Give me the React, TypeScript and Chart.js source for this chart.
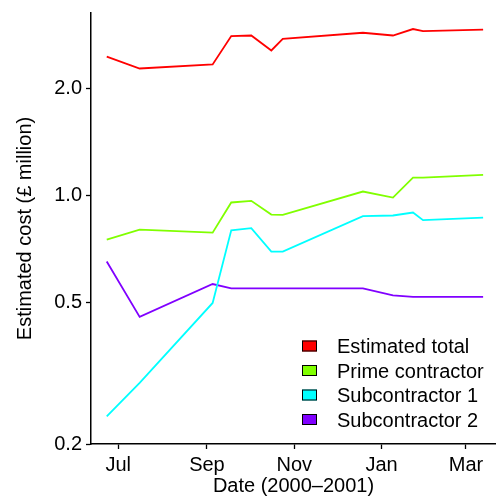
import React, { useEffect, useRef } from "react";
import { Chart, registerables } from "chart.js";

Chart.register(...registerables);

// ---- Data ----
const dates = [
  "2000-06-23", "2000-07-16", "2000-09-05", "2000-09-18", "2000-10-02", "2000-10-16",
  "2000-10-24", "2000-12-19", "2001-01-09", "2001-01-23", "2001-01-30", "2001-03-13",
];
const estimatedTotal = [2.45, 2.27, 2.33, 2.80, 2.81, 2.55, 2.75, 2.86, 2.81, 2.93, 2.89, 2.92];
const primeContractor = [0.75, 0.80, 0.785, 0.954, 0.964, 0.882, 0.880, 1.024, 0.985, 1.12, 1.12, 1.14];
const subcontractor1 = [0.239, 0.297, 0.498, 0.797, 0.808, 0.694, 0.694, 0.873, 0.877, 0.894, 0.851, 0.865];
const subcontractor2 = [0.651, 0.455, 0.563, 0.547, 0.547, 0.547, 0.547, 0.547, 0.523, 0.518, 0.518, 0.518];

const seriesLabels = ["Estimated total", "Prime contractor", "Subcontractor 1", "Subcontractor 2"];
const seriesColors = ["#FF0000", "#80FF00", "#00FFFF", "#8000FF"];

const xTickDates = ["2000-07-01", "2000-09-01", "2000-11-01", "2001-01-01", "2001-03-01"];
const xTickLabels = ["Jul", "Sep", "Nov", "Jan", "Mar"];
const yTicks = [0.2, 0.5, 1.0, 2.0];

const ORIGIN = Date.parse("2000-07-01T00:00:00Z");
const toDay = (d: string) => (Date.parse(d + "T00:00:00Z") - ORIGIN) / 86400000;

const FONT = "'Liberation Sans', Arial, Helvetica, sans-serif";

export default function App() {
  const ref = useRef<HTMLCanvasElement | null>(null);

  useEffect(() => {
    document.body.style.margin = "0";
    const canvas = ref.current;
    if (!canvas) return;

    const seriesValues = [estimatedTotal, primeContractor, subcontractor1, subcontractor2];
    const datasets = seriesValues.map((vals, i) => ({
      label: seriesLabels[i],
      data: vals.map((v, j) => ({ x: toDay(dates[j]), y: v })),
      borderColor: seriesColors[i],
      backgroundColor: seriesColors[i],
      borderWidth: 1.8,
      pointRadius: 0,
      tension: 0,
      fill: false,
    }));

    const xTickValues = xTickDates.map(toDay);

    const legendPlugin = {
      id: "customLegend",
      afterDraw(chart: any) {
        const ctx = chart.ctx;
        ctx.save();
        ctx.font = `20px ${FONT}`;
        ctx.textAlign = "left";
        ctx.textBaseline = "alphabetic";
        seriesLabels.forEach((lab, i) => {
          const cy = 346 + i * 24.5;
          ctx.fillStyle = seriesColors[i];
          ctx.fillRect(302, cy - 5.5, 15, 11);
          ctx.strokeStyle = "#000";
          ctx.lineWidth = 1;
          ctx.strokeRect(302.5, cy - 5, 14, 10);
          ctx.fillStyle = "#000";
          ctx.fillText(lab, 337, cy + 7);
        });
        ctx.restore();
      },
    };

    const chart = new Chart(canvas, {
      type: "line",
      data: { datasets },
      options: {
        animation: false,
        responsive: false,
        maintainAspectRatio: false,
        layout: { padding: { top: 13, left: 0, right: 0, bottom: 0 } },
        plugins: {
          legend: { display: false },
          tooltip: { enabled: false },
        },
        scales: {
          x: {
            type: "linear",
            min: -19,
            max: 264,
            grid: {
              drawOnChartArea: false,
              drawTicks: true,
              tickLength: 5,
              tickColor: "#000",
              tickWidth: 1.3,
            },
            border: { display: true, color: "#000", width: 1.5 },
            afterBuildTicks: (scale: any) => {
              scale.ticks = xTickValues.map((v) => ({ value: v }));
            },
            ticks: {
              autoSkip: false,
              maxRotation: 0,
              padding: 4,
              color: "#000",
              font: { family: FONT, size: 20 },
              callback: (v: any) => {
                const idx = xTickValues.findIndex((t) => Math.abs(t - v) < 0.01);
                return idx >= 0 ? xTickLabels[idx] : "";
              },
            },
            title: {
              display: true,
              text: "Date (2000\u20132001)",
              color: "#000",
              font: { family: FONT, size: 20, lineHeight: 1 },
              padding: { top: 0, bottom: 0 },
            },
            afterFit: (scale: any) => {
              scale.height = 52;
              scale.paddingLeft = 0;
              scale.paddingRight = 0;
            },
          },
          y: {
            type: "logarithmic",
            min: 0.2,
            max: 3.25,
            grid: {
              drawOnChartArea: false,
              drawTicks: true,
              tickLength: 5,
              tickColor: "#000",
              tickWidth: 1.3,
            },
            border: { display: true, color: "#000", width: 1.5 },
            afterBuildTicks: (scale: any) => {
              scale.ticks = yTicks.map((v) => ({ value: v }));
            },
            ticks: {
              autoSkip: false,
              padding: 4,
              color: "#000",
              font: { family: FONT, size: 20 },
              callback: (v: any) => Number(v).toFixed(1),
            },
            title: {
              display: true,
              text: "Estimated cost (\u00A3 million)",
              color: "#000",
              font: { family: FONT, size: 20, lineHeight: 1.2 },
              padding: { top: 13, bottom: 0 },
            },
            afterFit: (scale: any) => {
              scale.width = 91;
              scale.paddingTop = 0;
              scale.paddingBottom = 0;
            },
          },
        },
      },
      plugins: [legendPlugin],
    });

    return () => chart.destroy();
  }, []);

  return (
    <div style={{ position: "absolute", left: 0, top: 0, width: 496, height: 496, background: "#fff" }}>
      <canvas ref={ref} width={496} height={496} style={{ width: 496, height: 496, display: "block" }} />
    </div>
  );
}
